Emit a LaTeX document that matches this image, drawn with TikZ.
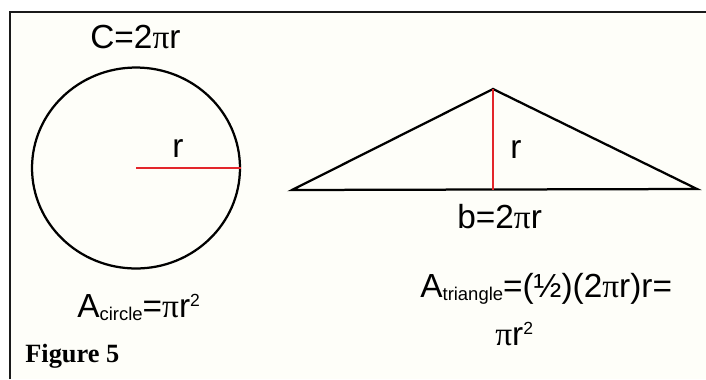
\documentclass[tikz,border=0pt]{standalone}
\usepackage{fontspec}
\setmainfont{Liberation Sans}
\newfontfamily\fuenteSimbolo{Liberation Serif}
\newfontfamily\fuenteTitulo{Liberation Serif}
\usepackage{xcolor}
\usetikzlibrary{shapes.geometric, positioning}
\definecolor{rojoRadio}{HTML}{e3262b}
\definecolor{fondoCrema}{HTML}{fefef9}
\definecolor{bordeMarco}{HTML}{1a1a1a}
\newcommand{\simPi}{{\fuenteSimbolo π}}
\newcommand{\subInd}[1]{\raisebox{-2pt}{\fontsize{10.5}{11}\selectfont #1}}
\newcommand{\supInd}[1]{\raisebox{6pt}{\fontsize{10}{11}\selectfont #1}}

\begin{document}
\begin{tikzpicture}[
  x=0.02cm, y=-0.02cm,
  % Estilos de figuras
  figCirculo/.style={
    ellipse, draw=black, line width=0.045cm,
    minimum width=4.16cm, minimum height=4.02cm, inner sep=0pt
  },
  figTriangulo/.style={
    draw=black, line width=0.045cm, line join=miter
  },
  radio/.style={
    draw=rojoRadio, line width=0.04cm
  },
  marco/.style={
    draw=bordeMarco, line width=0.04cm
  },
  % Estilos de textos
  etiq/.style={
    font=\fontsize{19}{22}\selectfont, inner sep=0pt, anchor=base west
  },
  etiqFigura/.style={
    font=\fuenteTitulo\bfseries\fontsize{15}{18}\selectfont,
    inner sep=0pt, anchor=base west
  }
]

\useasboundingbox (0,0) rectangle (706,379);

% --- Marco ---
\coordinate (marcoAbajo)  at (10,379);
\coordinate (marcoEsq)    at (10,12);
\coordinate (marcoDer)    at (706,12);
\fill[fondoCrema] (marcoEsq) rectangle (706,379);
\draw[marco] (marcoAbajo) -- (marcoEsq) -- (marcoDer);

% --- Circulo ---
\node[figCirculo] (circulo) at (136,168) {};
\draw[radio] (circulo.center) -- (circulo.east);

\node[etiq] (perimetro) at (90,48)  {C=2\simPi r};
\node[etiq] (radioC)    at (172,157) {r};
\node[etiq] (areaC)     at (77,317) {A\subInd{circle}=\simPi r\supInd{2}};

% --- Triangulo ---
\coordinate (triIzq)   at (292,190);
\coordinate (triApice) at (493,89);
\coordinate (triDer)   at (697,189);
\coordinate (triPie)   at (493,190);
\draw[figTriangulo] (triIzq) -- (triApice) -- (triDer) -- cycle;
\draw[radio] (triApice) -- (triPie);

\node[etiq] (radioT) at (510,158) {r};
\node[etiq] (base)   at (457,228) {b=2\simPi r};
\node[etiq] (areaT)  at (420,297) {A\subInd{triangle}=(½)(2\simPi r)r=};
\node[etiq] (areaT2) at (495,345) {\simPi r\supInd{2}};

% --- Titulo ---
\node[etiqFigura] (figura) at (25,362) {Figure 5};

\end{tikzpicture}
\end{document}
